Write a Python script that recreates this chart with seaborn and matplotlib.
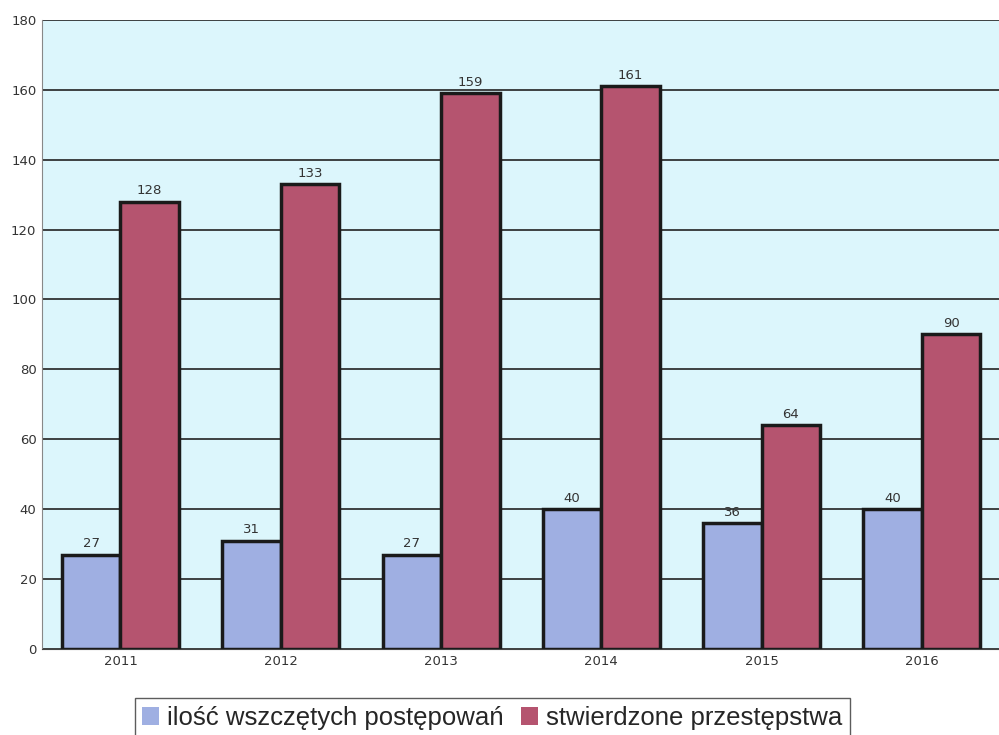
import pandas as pd
import seaborn as sns
from matplotlib import pyplot as plt

years = ['2011', '2012', '2013', '2014', '2015', '2016']
wszczete = [27, 31, 27, 40, 36, 40]
stwierdzone = [128, 133, 159, 161, 64, 90]
series_names = ['ilość wszczętych postępowań', 'stwierdzone przestępstwa']

df = pd.DataFrame({
    'rok': years * 2,
    'wartosc': wszczete + stwierdzone,
    'seria': [series_names[0]] * len(years) + [series_names[1]] * len(years),
})

sns.set_style('white')
plt.rcParams['font.family'] = ['DejaVu Sans']

fig = plt.figure(figsize=(9.99, 7.35), dpi=100)
ax = fig.add_axes([0.042, 0.117, 0.969, 0.856])
ax.set_facecolor('#dcf6fc')

colors = ['#9fafe2', '#b5546f']
sns.barplot(data=df, x='rok', y='wartosc', hue='seria', palette=colors,
            width=0.73, edgecolor='#1a1a1a', linewidth=2.5, ax=ax, zorder=3,
            saturation=1)

# etykiety nad slupkami
for cont in ax.containers:
    ax.bar_label(cont, padding=3, fontsize=9.5, color='#333333')

ax.set_ylim(0, 180)
ax.set_xlim(-0.49, 5.55)
ax.set_yticks(range(0, 181, 20))
ax.yaxis.grid(True, color='#222222', linewidth=1.2, zorder=0)
ax.set_axisbelow(True)
ax.tick_params(axis='both', labelsize=9.5, colors='#333333', length=0, pad=4)
ax.set_xlabel('')
ax.set_ylabel('')
for s in ['top', 'right']:
    ax.spines[s].set_visible(False)
ax.spines['left'].set_color('#888888')
ax.spines['bottom'].set_color('#444444')

leg = ax.legend(loc='upper center', bbox_to_anchor=(0.465, -0.058), ncol=2,
                frameon=True, fancybox=False, edgecolor='#333333',
                handlelength=0.65, handleheight=0.65, handletextpad=0.3,
                columnspacing=0.7, borderpad=0.3,
                prop={'family': 'Liberation Sans', 'size': 18.5})
for h in leg.legend_handles:
    h.set_edgecolor('none')
    h.set_linewidth(0)

plt.savefig('out.png', dpi=100)
